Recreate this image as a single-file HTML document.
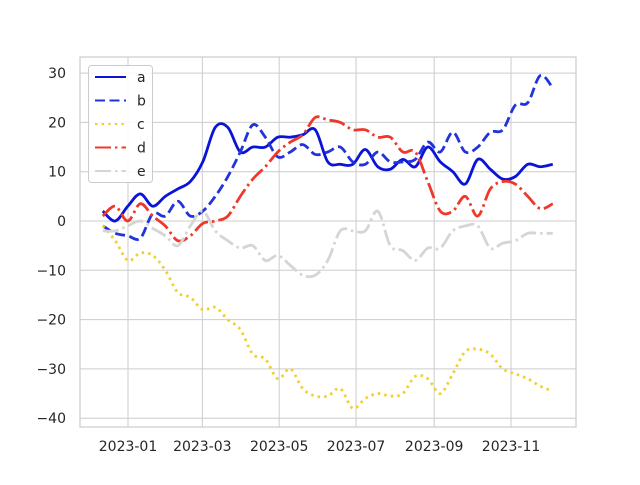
<!DOCTYPE html>
<html><head><meta charset="utf-8"><style>
body{margin:0;background:#fff;}
svg text{font-family:"DejaVu Sans","Liberation Sans",sans-serif;fill:#262626;}
</style></head><body>
<svg id="chart" width="640" height="480" viewBox="0 0 640 480" xmlns="http://www.w3.org/2000/svg">
<rect width="640" height="480" fill="#fff"/>
<g id="grid"></g><g id="series"></g><g id="ticks"></g><g id="legend"></g>
</svg>
<script>
const seriesNames = ["a","b","c","d","e"];
const startDay = -20; // days relative to 2023-01-01
const stepDays = 9.92;
const aVals = [2,0,3,5.5,3,5,6.5,8,12,19,19,14,15,15,17,17,17.5,18.5,12,11.5,11.5,14.5,11,10.5,12.5,11,15,12,10,7.5,12.5,10.5,8.5,9,11.5,11,11.5];
const bVals = [-1,-2.5,-3,-3.5,1.5,1,4,1,2,5,9,14,19.5,17,13,14,15.5,13.5,14,15,12,11.5,14,12,12,12.5,16,14,18,14,15,18,18.5,23.5,24,29.5,27];
const cVals = [-1,-4,-8,-6.5,-7,-10,-14.5,-15.5,-18,-17.5,-20,-22,-27,-28,-32,-30,-34,-35.5,-35.5,-34,-38,-36,-35,-35.5,-35,-31.5,-32,-35,-31,-26.5,-26,-27,-30,-31,-32,-33.5,-34.5];
const dVals = [1,3,0,3.5,1,-1,-4,-3,-0.5,0,1,5,8.5,11,14,16,17.5,21,20.5,20,18.5,18.5,17,17,14,14,8,2,2,5,1,6.5,8,7.5,5,2.5,3.5];
const eVals = [-2,-2,-1,0,-1.5,-3,-5,-1,2,-2,-4,-5.5,-5,-8,-7,-9,-11,-11,-8,-2,-2,-2,2,-5,-6,-8,-5.5,-5.5,-2,-1,-1,-5.5,-4.5,-4,-2.5,-2.5,-2.5];
const yTicks = [-40,-30,-20,-10,0,10,20,30];
const xTickLabels = ["2023-01","2023-03","2023-05","2023-07","2023-09","2023-11"];
const xTickDays = [0,59,120,181,243,304];

const NS="http://www.w3.org/2000/svg";
const L=80,R=576,T=57,B=427;
const xs=d=>128+d*1.26;
const ys=v=>221-v*4.93;
function mk(tag,attrs,parent){const e=document.createElementNS(NS,tag);for(const k in attrs)e.setAttribute(k,attrs[k]);parent.appendChild(e);return e;}
const grid=document.getElementById('grid'),ser=document.getElementById('series'),tk=document.getElementById('ticks'),lg=document.getElementById('legend');
yTicks.forEach(v=>{
  const g=mk('line',{x1:L,x2:R,y1:ys(v),y2:ys(v),stroke:'#cccccc','stroke-width':1},grid);
  
  
  const t=mk('text',{x:66,y:ys(v)+5,'text-anchor':'end','font-size':14},tk);t.textContent=String(v).replace('-','\u2212');
  
  
});
xTickDays.forEach((d,i)=>{
  const g=mk('line',{x1:xs(d),x2:xs(d),y1:T,y2:B,stroke:'#cccccc','stroke-width':1},grid);
  
  
  const t=mk('text',{x:xs(d),y:451,'text-anchor':'middle','font-size':14},tk);t.textContent=xTickLabels[i];
  
  
});
const frame=mk('rect',{x:L,y:T,width:R-L,height:B-T,fill:'none',stroke:'#cccccc','stroke-width':1.2},grid);


const styles=[
 {c:'#0a14d8',d:''},{c:'#2233dd',d:'10 4.5'},{c:'#f2cf2f',d:'2.5 4.1'},{c:'#f0382a',d:'16 4 2.5 4'},{c:'#d5d5d5',d:'16 4 2.5 4'}];
const allVals=[aVals,bVals,cVals,dVals,eVals];
function pathFor(vals){
  const p=vals.map((v,i)=>[xs(startDay+i*stepDays),ys(v)]);
  let s='M'+p[0][0]+','+p[0][1];
  for(let i=0;i<p.length-1;i++){
    const p0=p[Math.max(0,i-1)],p1=p[i],p2=p[i+1],p3=p[Math.min(p.length-1,i+2)];
    const c1=[p1[0]+(p2[0]-p0[0])/6,p1[1]+(p2[1]-p0[1])/6],c2=[p2[0]-(p3[0]-p1[0])/6,p2[1]-(p3[1]-p1[1])/6];
    s+=' C'+c1+' '+c2+' '+p2;
  }
  return s;
}
allVals.forEach((vals,i)=>{
  const e=mk('path',{d:pathFor(vals),fill:'none',stroke:styles[i].c,'stroke-width':2.8,'stroke-dasharray':styles[i].d,'stroke-linejoin':'round'},ser);
  
  
});
const box=mk('rect',{x:88.5,y:65.5,width:64,height:117,rx:3,fill:'#fff','fill-opacity':0.85,stroke:'#cccccc'},lg);


seriesNames.forEach((n,i)=>{
  const y=77+i*23.5;
  const l=mk('line',{x1:95,x2:126,y1:y,y2:y,stroke:styles[i].c,'stroke-width':2,'stroke-dasharray':styles[i].d},lg);
  
  
  const t=mk('text',{x:137,y:y+5,'font-size':14},lg);t.textContent=n;
  
  
});
</script>
</body></html>
